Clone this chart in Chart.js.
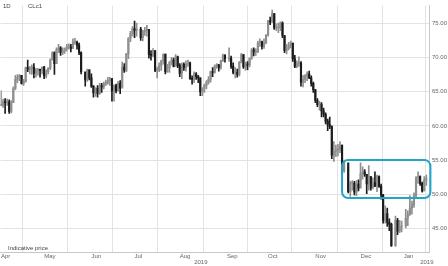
<!DOCTYPE html>
<html>
<head>
<meta charset="utf-8">
<script src="https://cdn.jsdelivr.net/npm/chart.js@4.4.0/dist/chart.umd.min.js"></script>
<style>
  html, body { margin: 0; padding: 0; background: #fff; }
  #wrap { width: 448px; height: 266px; }
</style>
</head>
<body>
<div id="wrap"><canvas id="chart" width="448" height="266"></canvas></div>
<script>
// CLc1 daily bars, Apr 2018 - Jan 2019

const dates = [
  "2018-04-02","2018-04-03","2018-04-04","2018-04-05","2018-04-06","2018-04-09","2018-04-10","2018-04-11","2018-04-12","2018-04-13","2018-04-16","2018-04-17","2018-04-18","2018-04-19","2018-04-20","2018-04-23","2018-04-24","2018-04-25","2018-04-26","2018-04-27","2018-04-30",
  "2018-05-01","2018-05-02","2018-05-03","2018-05-04","2018-05-07","2018-05-08","2018-05-09","2018-05-10","2018-05-11","2018-05-14","2018-05-15","2018-05-16","2018-05-17","2018-05-18","2018-05-21","2018-05-22","2018-05-23","2018-05-24","2018-05-25","2018-05-29","2018-05-30","2018-05-31",
  "2018-06-01","2018-06-04","2018-06-05","2018-06-06","2018-06-07","2018-06-08","2018-06-11","2018-06-12","2018-06-13","2018-06-14","2018-06-15","2018-06-18","2018-06-19","2018-06-20","2018-06-21","2018-06-22","2018-06-25","2018-06-26","2018-06-27","2018-06-28","2018-06-29",
  "2018-07-02","2018-07-03","2018-07-05","2018-07-06","2018-07-09","2018-07-10","2018-07-11","2018-07-12","2018-07-13","2018-07-16","2018-07-17","2018-07-18","2018-07-19","2018-07-20","2018-07-23","2018-07-24","2018-07-25","2018-07-26","2018-07-27","2018-07-30","2018-07-31",
  "2018-08-01","2018-08-02","2018-08-03","2018-08-06","2018-08-07","2018-08-08","2018-08-09","2018-08-10","2018-08-13","2018-08-14","2018-08-15","2018-08-16","2018-08-17","2018-08-20","2018-08-21","2018-08-22","2018-08-23","2018-08-24","2018-08-27","2018-08-28","2018-08-29","2018-08-30","2018-08-31",
  "2018-09-04","2018-09-05","2018-09-06","2018-09-07","2018-09-10","2018-09-11","2018-09-12","2018-09-13","2018-09-14","2018-09-17","2018-09-18","2018-09-19","2018-09-20","2018-09-21","2018-09-24","2018-09-25","2018-09-26","2018-09-27","2018-09-28",
  "2018-10-01","2018-10-02","2018-10-03","2018-10-04","2018-10-05","2018-10-08","2018-10-09","2018-10-10","2018-10-11","2018-10-12","2018-10-15","2018-10-16","2018-10-17","2018-10-18","2018-10-19","2018-10-22","2018-10-23","2018-10-24","2018-10-25","2018-10-26","2018-10-29","2018-10-30","2018-10-31",
  "2018-11-01","2018-11-02","2018-11-05","2018-11-06","2018-11-07","2018-11-08","2018-11-09","2018-11-12","2018-11-13","2018-11-14","2018-11-15","2018-11-16","2018-11-19","2018-11-20","2018-11-21","2018-11-23","2018-11-26","2018-11-27","2018-11-28","2018-11-29","2018-11-30",
  "2018-12-03","2018-12-04","2018-12-05","2018-12-06","2018-12-07","2018-12-10","2018-12-11","2018-12-12","2018-12-13","2018-12-14","2018-12-17","2018-12-18","2018-12-19","2018-12-20","2018-12-21","2018-12-24","2018-12-26","2018-12-27","2018-12-28","2018-12-31",
  "2019-01-02","2019-01-03","2019-01-04","2019-01-07","2019-01-08","2019-01-09","2019-01-10","2019-01-11","2019-01-14","2019-01-15","2019-01-16"
];

const highs = [
  65.1,63.9,64.0,63.9,63.8,63.7,65.7,67.4,67.5,67.5,67.4,66.8,68.6,69.6,68.7,68.9,69.1,68.4,68.4,68.3,68.6,
  68.7,68.2,68.5,69.8,70.8,70.8,71.4,71.9,71.6,71.4,71.4,71.9,72.0,71.9,72.7,72.8,72.4,72.1,70.8,67.8,68.3,68.2,
  67.6,65.9,65.6,65.9,66.2,66.2,66.4,66.7,67.1,67.1,66.9,66.0,66.1,66.5,66.6,69.3,69.1,70.6,72.9,73.8,74.5,
  75.3,75.0,74.4,74.0,74.4,74.7,74.0,71.0,71.3,71.0,68.6,69.2,69.6,70.5,70.5,69.0,69.4,70.0,69.9,70.4,70.2,
  69.1,69.2,69.2,69.5,69.6,69.3,67.3,67.9,67.8,67.4,67.0,65.6,66.1,66.6,67.2,68.0,68.5,68.9,69.1,69.0,69.6,70.5,70.4,
  71.4,70.2,69.2,68.5,68.3,69.4,70.6,70.4,69.3,69.4,69.9,71.3,71.4,71.3,72.4,72.7,72.4,72.7,73.3,
  75.4,75.9,76.9,76.4,74.9,75.0,75.2,75.2,73.2,71.9,72.2,72.4,72.1,70.3,69.5,70.1,69.4,67.4,67.5,67.9,68.0,67.3,66.4,
  65.3,64.0,63.6,63.4,62.6,61.9,61.0,61.3,60.0,57.7,57.2,57.3,57.7,57.2,55.0,54.0,51.9,52.0,51.9,52.0,52.1,
  54.6,54.0,53.6,52.9,54.2,52.6,52.4,53.3,52.8,52.7,51.5,50.0,48.3,48.0,46.4,45.8,46.8,46.5,46.2,46.1,
  47.8,47.6,49.8,49.0,50.2,52.6,53.3,52.7,51.8,52.6,52.8
];

const lows = [
  62.9,62.7,61.8,63.0,61.8,61.9,63.4,65.3,66.3,66.6,66.1,65.9,66.4,67.9,67.6,67.5,67.0,67.1,67.4,67.1,67.6,
  66.9,67.0,67.6,68.2,69.6,67.5,69.1,70.7,70.3,70.4,70.6,70.9,71.2,70.8,71.3,71.9,71.2,70.4,67.6,65.8,66.5,66.7,
  65.6,64.2,64.3,64.2,64.6,64.9,65.4,65.9,66.1,65.9,63.6,63.6,64.8,65.1,64.7,65.7,67.8,67.9,69.8,72.3,73.1,
  72.9,73.1,72.5,72.4,73.2,73.1,69.9,69.6,70.1,67.9,67.0,67.9,68.1,69.0,67.6,67.8,67.8,68.9,68.6,68.8,68.5,
  67.2,66.9,68.1,68.0,68.7,66.8,66.1,66.3,66.8,66.3,64.4,64.4,64.9,65.4,66.1,66.4,67.2,67.7,68.4,68.0,68.3,69.4,69.3,
  69.4,68.4,67.6,67.0,67.1,67.3,69.2,68.4,68.1,68.2,68.6,69.7,70.2,70.3,70.7,71.6,71.2,71.3,72.0,
  73.1,74.8,75.1,74.1,73.9,73.6,73.9,72.9,70.7,70.5,71.1,71.4,69.4,68.5,68.5,68.7,65.8,65.7,66.3,66.6,66.9,65.8,64.9,
  63.4,62.8,62.3,61.3,61.3,60.3,59.3,59.6,55.2,54.8,55.5,55.6,56.1,52.9,53.2,50.2,49.7,50.6,49.9,49.8,50.5,
  52.0,52.2,52.6,50.1,50.6,50.6,50.8,51.1,50.4,51.0,49.3,45.8,45.8,45.3,44.7,42.4,42.4,44.1,44.4,44.5,
  45.1,45.4,46.9,47.1,48.1,49.5,51.6,51.3,50.3,50.5,51.3
];

const closes = [
  63.0,63.5,63.4,63.5,62.1,63.4,65.5,66.8,67.1,67.4,66.2,66.5,68.5,68.3,68.4,68.6,67.7,68.1,68.2,68.1,68.6,
  67.3,67.9,68.4,69.7,70.7,69.1,71.1,71.4,70.7,71.0,71.3,71.5,71.5,71.3,72.2,72.2,71.8,70.7,67.9,66.7,68.2,67.0,
  65.8,64.8,65.5,64.7,65.9,65.7,66.1,66.4,66.6,66.9,65.1,65.9,65.1,66.2,65.5,68.6,68.1,70.5,72.8,73.5,74.2,
  73.9,74.1,72.9,73.8,73.9,74.1,70.4,70.3,71.0,68.1,68.1,68.8,69.5,70.5,67.9,68.5,69.3,69.6,68.7,70.1,68.8,
  67.7,69.0,68.5,69.0,69.2,66.9,66.8,67.6,67.2,67.0,65.0,65.5,65.9,66.4,66.8,67.9,67.8,68.7,68.9,68.5,69.5,70.3,69.8,
  69.9,68.7,67.8,67.8,67.5,69.3,70.4,68.6,69.0,68.9,69.9,71.1,70.8,70.8,72.1,72.3,71.6,72.1,73.3,
  75.3,75.2,76.4,74.3,74.3,74.3,75.0,73.2,71.0,71.3,71.8,72.1,69.8,68.7,69.1,69.2,66.4,66.8,67.3,67.6,67.0,66.2,65.3,
  63.7,63.1,63.1,62.2,61.7,60.7,60.2,59.9,55.7,56.3,56.5,56.5,57.2,53.4,54.6,50.4,51.6,51.6,50.3,51.5,50.9,
  53.0,53.3,52.9,51.5,52.6,51.0,51.7,51.2,52.6,51.2,49.9,46.2,47.2,45.9,45.6,42.5,46.2,44.6,45.3,45.4,
  46.5,47.1,48.0,48.5,49.8,52.4,52.6,51.6,50.5,52.1,52.3
];

const monthTicks = ["2018-04-02","2018-05-01","2018-06-01","2018-07-02","2018-08-01","2018-09-03","2018-10-01","2018-11-01","2018-12-03","2019-01-01"];
const monthLabels = ["Apr","May","Jun","Jul","Aug","Sep","Oct","Nov","Dec","Jan"];
const priceTicks = [45, 50, 55, 60, 65, 70, 75];
const yearLabels = ["2019", "2019"];
const yearLabelDates = ["2018-08-10", "2019-01-11"];

// highlighted range (dates / prices)
const boxDates = ["2018-11-20", "2019-01-18"];
const boxPrices = [49.45, 55.0];

const FONT = "'Liberation Sans', Arial, sans-serif";
const UP = "#8f8f8f";
const DOWN = "#1c1c1c";

// x = weekday count since the first bar (no weekend gaps)
const START = Date.UTC(2018, 3, 2);
function dayIndex(s) {
  const p = s.split("-").map(Number);
  const days = Math.round((Date.UTC(p[0], p[1] - 1, p[2]) - START) / 86400000);
  return Math.floor(days / 7) * 5 + Math.min(days % 7, 5);
}

const opens = closes.map((c, i) => (i > 0 ? closes[i - 1] : c));
const colors = closes.map((c, i) => (c >= opens[i] ? UP : DOWN));

const wicks = dates.map((d, i) => ({ x: dayIndex(d), y: [lows[i], highs[i]] }));
const bodies = dates.map((d, i) => ({ x: dayIndex(d), y: [opens[i], closes[i]] }));

const overlay = {
  id: "overlay",
  afterDatasetsDraw(chart) {
    const { ctx, scales } = chart;
    const x = scales.x, y = scales.y;
    ctx.save();

    // rounded box around the consolidation range
    const l = x.getPixelForValue(dayIndex(boxDates[0]));
    const r = x.getPixelForValue(dayIndex(boxDates[1]));
    const t = y.getPixelForValue(boxPrices[1]);
    const b = y.getPixelForValue(boxPrices[0]);
    const rad = 6;
    ctx.beginPath();
    ctx.moveTo(l + rad, t);
    ctx.arcTo(r, t, r, b, rad);
    ctx.arcTo(r, b, l, b, rad);
    ctx.arcTo(l, b, l, t, rad);
    ctx.arcTo(l, t, r, t, rad);
    ctx.closePath();
    ctx.lineWidth = 2;
    ctx.strokeStyle = "#22a5c9";
    ctx.stroke();

    // captions
    ctx.fillStyle = "#444";
    ctx.font = "6px " + FONT;
    ctx.textBaseline = "middle";
    ctx.textAlign = "left";
    ctx.fillText("1D", 3, 6);
    ctx.fillText("CLc1", 28, 6);
    ctx.fillText("Indicative price", 8, 248);

    ctx.fillStyle = "#666";
    yearLabels.forEach((txt, i) => {
      ctx.fillText(txt, x.getPixelForValue(dayIndex(yearLabelDates[i])), 262);
    });
    ctx.restore();
  },
};

new Chart(document.getElementById("chart"), {
  type: "bar",
  data: {
    datasets: [
      {
        data: wicks,
        backgroundColor: colors,
        barThickness: 1,
        grouped: false,
      },
      {
        data: bodies,
        backgroundColor: colors,
        barThickness: 1.5,
        minBarLength: 1,
        grouped: false,
      },
    ],
  },
  options: {
    responsive: false,
    animation: false,
    events: [],
    layout: { padding: 0 },
    plugins: {
      legend: { display: false },
      tooltip: { enabled: false },
    },
    scales: {
      x: {
        type: "linear",
        offset: false,
        min: -0.25,
        max: 208.8,
        afterBuildTicks: (s) => {
          s.ticks = monthTicks.map((d) => ({ value: dayIndex(d) }));
        },
        afterFit: (s) => {
          s.height = 14;
        },
        ticks: {
          autoSkip: false,
          maxRotation: 0,
          align: "start",
          padding: 1,
          color: "#666",
          font: { family: FONT, size: 6 },
          callback: (v, i) => monthLabels[i],
        },
        grid: { color: "#e3e3e3", drawTicks: false },
        border: { color: "#c8c8c8" },
      },
      y: {
        position: "right",
        min: 41.57,
        max: 77.57,
        afterBuildTicks: (s) => {
          s.ticks = priceTicks.map((v) => ({ value: v }));
        },
        afterFit: (s) => {
          s.width = 18;
        },
        ticks: {
          padding: 2,
          color: "#666",
          font: { family: FONT, size: 6 },
          callback: (v) => v.toFixed(2),
        },
        grid: { color: "#e3e3e3", drawTicks: false },
        border: { color: "#c8c8c8" },
      },
    },
  },
  plugins: [overlay],
});
</script>
</body>
</html>
